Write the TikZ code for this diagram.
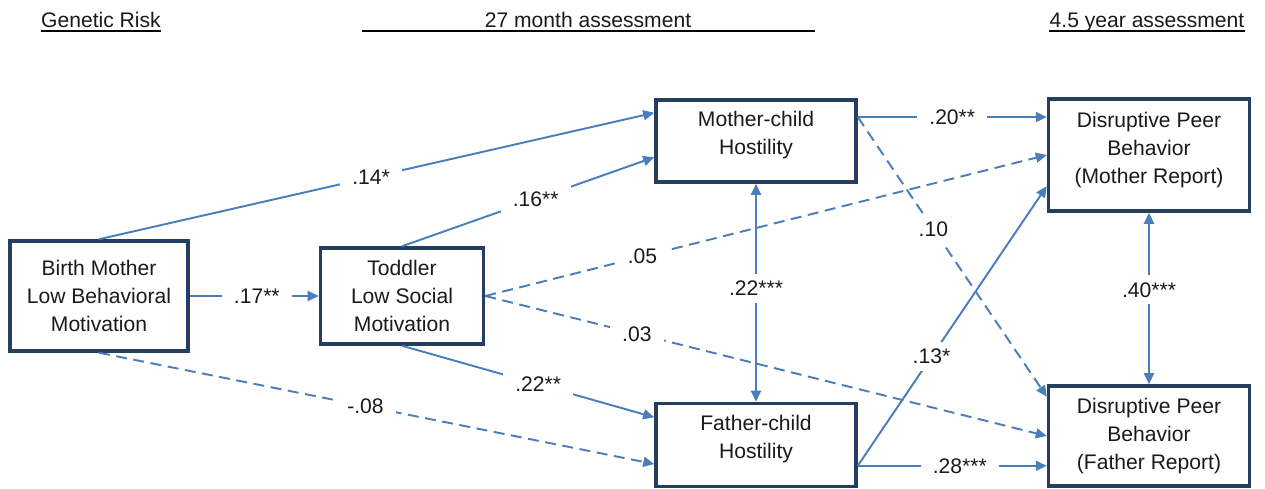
\documentclass[tikz,border=0pt]{standalone}
\usepackage{fontspec}
\setmainfont{Liberation Sans}
\usepackage{tikz}
\usetikzlibrary{arrows.meta,calc}
\definecolor{pmNavy}{HTML}{243F60}
\definecolor{pmBlue}{HTML}{4A7EBB}
\definecolor{pmInk}{HTML}{1A1A1A}
\tikzset{
  pm diagram/.style={x=0.2mm, y=-0.2mm, font=\fontsize{12}{16}\selectfont,
    text=pmInk},
  pm box/.style={draw=pmNavy, fill=white, line width=2pt, align=center,
    inner sep=2pt},
  pm path/.style={-{Triangle[length=2.2mm,width=2mm]}, draw=pmBlue,
    line width=1.1pt},
  pm null/.style={pm path, dash pattern=on 2.2mm off 1.3mm},
  pm cov/.style={pm path,
    {Triangle[length=2.2mm,width=2mm]}-{Triangle[length=2.2mm,width=2mm]}},
  pm label/.style={fill=white, inner xsep=7pt, inner ysep=4pt, text=pmInk},
  pm header/.style={inner sep=0pt, anchor=base}
}
\begin{document}
\begin{tikzpicture}[pm diagram]
\useasboundingbox (0,0) rectangle (1265,489);
% time points
\node[pm header] (gr) at (101,27.5) {Genetic Risk};
\node[pm header] (tm) at (588,27.5) {27 month assessment};
\node[pm header] (fy) at (1147,27.5) {4.5 year assessment};
\draw[line width=0.6pt] ([yshift=-0.7mm]gr.base west) -- ([yshift=-0.7mm]gr.base east);
\draw[line width=0.6pt] ([yshift=-0.7mm]fy.base west) -- ([yshift=-0.7mm]fy.base east);
\draw[line width=1.1pt] (362,31) -- (815,31);
% variables
\node[pm box, minimum width=35.6mm, minimum height=22mm] (bm) at (99,296)
  {Birth Mother\\Low Behavioral\\Motivation};
\node[pm box, minimum width=32.6mm, minimum height=19.2mm] (tod) at (402,296)
  {Toddler\\Low Social\\Motivation};
\node[pm box, minimum width=40mm, minimum height=16.4mm, text depth=9pt] (mch)
  at (756,141) {Mother-child\\Hostility};
\node[pm box, minimum width=40mm, minimum height=16.6mm, text depth=9pt] (fch)
  at (756,445) {Father-child\\Hostility};
\node[pm box, minimum width=40.2mm, minimum height=22.4mm, text depth=8pt] (dpm)
  at (1149,155) {Disruptive Peer\\Behavior\\(Mother Report)};
\node[pm box, minimum width=40.2mm, minimum height=20mm] (dpf) at (1149,436)
  {Disruptive Peer\\Behavior\\(Father Report)};
% paths
\coordinate (mchR) at ($(mch.north east)!.22!(mch.south east)$);
\coordinate (fchR) at ($(fch.north east)!.74!(fch.south east)$);
\draw[pm path] (bm.north) -- node[pm label, pos=.49] {.14*}
  ($(mch.north west)!.17!(mch.south west)$);
\draw[pm path] (bm.east) -- node[pm label, pos=.52] {.17**} (tod.west);
\draw[pm null] (bm.south) -- node[pm label, pos=.48] {-.08}
  ($(fch.north west)!.72!(fch.south west)$);
\draw[pm path] (tod.north) -- node[pm label, pos=.53] {.16**}
  ($(mch.north west)!.69!(mch.south west)$);
\draw[pm path] (tod.south) -- node[pm label, pos=.54] {.22**}
  ($(fch.north west)!.18!(fch.south west)$);
\draw[pm null] (tod.east) -- node[pm label, pos=.28] {.05} (dpm.west);
\draw[pm null] (tod.east) -- node[pm label, pos=.27] {.03} (dpf.west);
\draw[pm path] (mchR) -- node[pm label] {.20**} (mchR -| dpm.west);
\draw[pm null] (mchR) -- node[pm label, pos=.4] {.10}
  ($(dpf.north west)!.12!(dpf.south west)$);
\draw[pm path] (fchR) -- node[pm label, pos=.54] {.28***} (fchR -| dpf.west);
\draw[pm path] (fchR) -- node[pm label, pos=.39] {.13*}
  ($(dpm.north west)!.77!(dpm.south west)$);
% covariances
\draw[pm cov] (mch.south) -- node[pm label, pos=.48] {.22***} (fch.north);
\draw[pm cov] (dpm.south) -- node[pm label, pos=.45] {.40***} (dpf.north);
\end{tikzpicture}
\end{document}
